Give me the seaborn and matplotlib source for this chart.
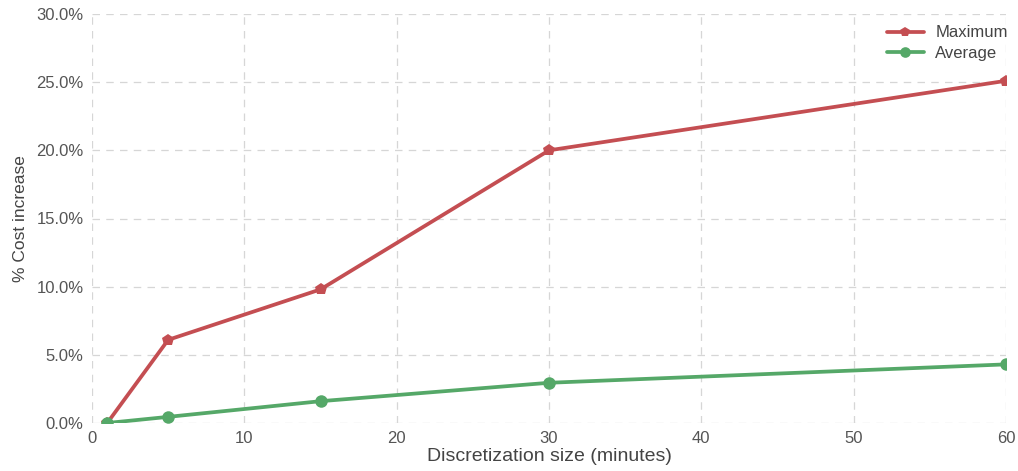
import matplotlib
matplotlib.use("Agg")
import matplotlib.pyplot as plt
import seaborn as sns
import pandas as pd
from matplotlib.ticker import PercentFormatter

sizes = [1, 5, 15, 30, 60]
maximum = [0.0, 6.1, 9.8, 20.0, 25.1]
average = [0.0, 0.45, 1.6, 2.95, 4.3]
series_names = ["Maximum", "Average"]

sns.set_style("whitegrid", {"grid.color": "#d6d6d6", "axes.edgecolor": "white"})
plt.rcParams["font.family"] = ["Liberation Sans", "DejaVu Sans"]

fig = plt.figure(figsize=(10.18, 4.71), dpi=100)
ax = fig.add_axes([92 / 1018, 1 - 423 / 471, (1006 - 92) / 1018, (423 - 14) / 471])

df = pd.DataFrame({"size": sizes * 2,
                   "value": maximum + average,
                   "series": [series_names[0]] * len(sizes) + [series_names[1]] * len(sizes)})

colors = {"Maximum": "#C44E52", "Average": "#55A868"}
markers = {"Maximum": "p", "Average": "o"}
for name in series_names:
    sub = df[df["series"] == name]
    sns.lineplot(data=sub, x="size", y="value", ax=ax, color=colors[name],
                 marker=markers[name], markersize=9,
                 markeredgewidth=0, linewidth=2.7, label=name)

ax.set_xlim(0, 60)
ax.set_ylim(0, 30)
ax.set_xticks(range(0, 61, 10))
ax.set_yticks(range(0, 31, 5))
ax.yaxis.set_major_formatter(PercentFormatter(decimals=1))
ax.grid(True, linestyle=(0, (6, 5)), linewidth=0.9, color="#d6d6d6")
ax.tick_params(axis="both", labelsize=12, labelcolor="#555555", length=0, pad=6)
ax.set_xlabel("Discretization size (minutes)", fontsize=14, color="#444444", labelpad=1)
ax.set_ylabel("% Cost increase", fontsize=12.5, color="#444444", labelpad=6)
for s in ax.spines.values():
    s.set_visible(False)

leg = ax.legend(loc="upper right", frameon=False, fontsize=12, handlelength=2.2,
                handletextpad=0.7, labelspacing=0.35, borderaxespad=0, borderpad=0,
                markerscale=0.85, bbox_to_anchor=(1.002, 0.972))
for t in leg.get_texts():
    t.set_color("#444444")

fig.savefig("out.png", dpi=100)
